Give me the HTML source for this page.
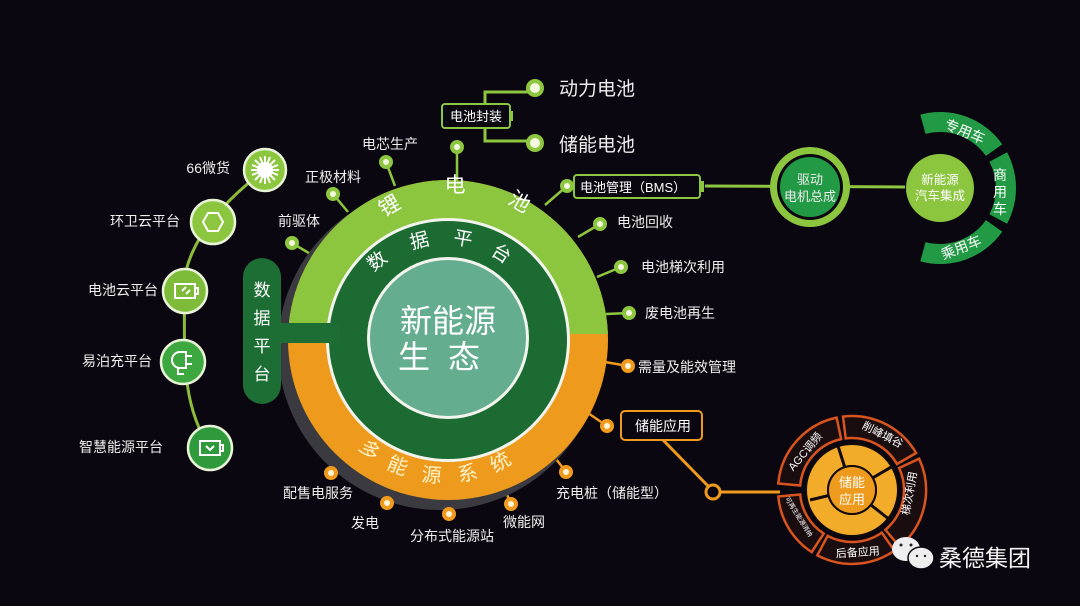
<!DOCTYPE html>
<html><head><meta charset="utf-8"><style>
html,body{margin:0;padding:0;background:#0b0710;}
svg{display:block}
text{font-family:"Liberation Sans","Noto Sans CJK SC",sans-serif;}
</style></head><body>
<svg width="1080" height="606" viewBox="0 0 1080 606" xmlns="http://www.w3.org/2000/svg">
<rect width="1080" height="606" fill="#0b0710"/>
<defs>
<clipPath id="top"><rect x="0" y="0" width="1080" height="334"/></clipPath>
</defs>

<path d="M265,170 C205,215 180,260 184,300 C186,340 178,400 210,448" fill="none" stroke="#8dbb3a" stroke-width="3"/>
<g stroke="#e8f3d8" stroke-width="2.5">
<circle cx="265" cy="170" r="21" fill="#8cc63f"/>
<circle cx="213" cy="222" r="22" fill="#8cc63f"/>
<circle cx="185" cy="291" r="22" fill="#7dbb38"/>
<circle cx="183" cy="362" r="22" fill="#3ea840"/>
<circle cx="210" cy="448" r="22" fill="#2f9a3c"/>
</g>
<g fill="none" stroke="#fff" stroke-width="2">
<circle cx="265" cy="170" r="8" fill="#fff" stroke="none"/>
<path d="M265,156 L265,184 M251,170 L279,170 M255,160 L275,180 M275,160 L255,180 M260,157 L270,183 M270,157 L260,183 M252,165 L278,175 M252,175 L278,165"/>
<polygon points="203,222 208,213 218,213 223,222 218,231 208,231"/>
<rect x="175" y="284" width="20" height="14"/><path d="M195,288 h3 v6 h-3 M182,291 l4,-4 M186,294 l4,-4"/>
<path d="M186,352 h-6 a8,8 0 0 0 0,16 h6 z M186,356 h6 M186,364 h6 M178,368 v6 h6"/>
<rect x="200" y="441" width="20" height="14"/><path d="M220,445 h3 v6 h-3 M206,446 l4,4 l4,-4"/>
</g>
<g fill="#eee" font-size="14" text-anchor="end">
<text x="230" y="173">66微货</text>
<text x="180" y="226">环卫云平台</text>
<text x="158" y="295">电池云平台</text>
<text x="152" y="366">易泊充平台</text>
<text x="163" y="452">智慧能源平台</text>
</g>

<g stroke-width="2.5">
<g stroke="#8dc63f">
<line x1="292" y1="243" x2="312" y2="255"/>
<line x1="333" y1="194" x2="348" y2="212"/>
<line x1="386" y1="162" x2="395" y2="186"/>
<line x1="457" y1="147" x2="457" y2="182"/>
<line x1="567" y1="186" x2="545" y2="205"/>
<line x1="600" y1="224" x2="578" y2="237"/>
<line x1="621" y1="267" x2="597" y2="277"/>
<line x1="629" y1="313" x2="606" y2="314"/>
</g>
<g stroke="#f09a1e">
<line x1="628" y1="366" x2="605" y2="362"/>
<line x1="607" y1="426" x2="588" y2="413"/>
<line x1="566" y1="472" x2="553" y2="455"/>
<line x1="511" y1="504" x2="503" y2="485"/>
<line x1="449" y1="514" x2="449" y2="495"/>
<line x1="387" y1="503" x2="393" y2="485"/>
<line x1="331" y1="473" x2="345" y2="457"/>
</g>
</g>

<circle cx="440" cy="348" r="162" fill="#3a3a40"/>
<circle cx="448" cy="340" r="160" fill="#ee9a1c"/>
<circle cx="448" cy="340" r="160" fill="#8cc63f" clip-path="url(#top)"/>
<rect x="243" y="258" width="38" height="146" rx="19" fill="#1d6e34"/>
<rect x="270" y="323" width="70" height="20" fill="#1d6e34"/>
<circle cx="448" cy="340" r="122" fill="#f4f4ee"/>
<circle cx="448" cy="340" r="119" fill="#1b6b32"/>
<rect x="270" y="323" width="70" height="20" fill="#1d6e34"/>
<circle cx="448" cy="338" r="81" fill="#f4f4ee"/>
<circle cx="448" cy="338" r="78" fill="#64ae8f"/>
<text x="448" y="332" font-size="32" fill="#fff" text-anchor="middle">新能源</text>
<text x="448" y="368" font-size="32" fill="#fff" text-anchor="middle" letter-spacing="18">生态</text>
<g fill="#fff" font-size="17" text-anchor="middle">
<text x="262" y="296">数</text><text x="262" y="324">据</text><text x="262" y="352">平</text><text x="262" y="380">台</text>
</g>
<g fill="#fff" font-size="21" text-anchor="middle">
<text transform="translate(393,212) rotate(-30)">锂</text>
<text transform="translate(455,192)">电</text>
<text transform="translate(516,208) rotate(30)">池</text>
</g>
<g fill="#fff" font-size="19" text-anchor="middle">
<text transform="translate(381,266) rotate(-38)">数</text>
<text transform="translate(421,247) rotate(-14)">据</text>
<text transform="translate(462,245) rotate(10)">平</text>
<text transform="translate(498,259) rotate(32)">台</text>
</g>
<g fill="#fff3c8" font-size="20" text-anchor="middle">
<text transform="translate(365,455) rotate(45)">多</text>
<text transform="translate(395,472) rotate(22)">能</text>
<text transform="translate(431,482) rotate(5)">源</text>
<text transform="translate(469,480) rotate(-12)">系</text>
<text transform="translate(504,468) rotate(-32)">统</text>
</g>

<g stroke-width="4">
<g fill="#f4f8e0" stroke="#8dc63f">
<circle cx="292" cy="243" r="5"/><circle cx="333" cy="194" r="5"/><circle cx="386" cy="162" r="5"/>
<circle cx="457" cy="147" r="5"/><circle cx="567" cy="186" r="5"/><circle cx="600" cy="224" r="5"/>
<circle cx="621" cy="267" r="5"/><circle cx="629" cy="313" r="5"/>
</g>
<g fill="#fff4d8" stroke="#f09a1e">
<circle cx="628" cy="366" r="5"/><circle cx="607" cy="426" r="5"/><circle cx="566" cy="472" r="5"/>
<circle cx="511" cy="504" r="5"/><circle cx="449" cy="514" r="5"/><circle cx="387" cy="503" r="5"/>
<circle cx="331" cy="473" r="5"/>
</g>
</g>
<g fill="#eee" font-size="14">
<text x="362" y="149">电芯生产</text>
<text x="305" y="182">正极材料</text>
<text x="278" y="226">前驱体</text>
<text x="617" y="227">电池回收</text>
<text x="641" y="272">电池梯次利用</text>
<text x="645" y="318">废电池再生</text>
<text x="638" y="372">需量及能效管理</text>
<text x="556" y="498">充电桩（储能型）</text>
<text x="503" y="527">微能网</text>
<text x="410" y="541">分布式能源站</text>
<text x="351" y="528">发电</text>
<text x="283" y="498">配售电服务</text>
</g>

<path d="M485,104 V92 H530 M485,128 V141 H530" fill="none" stroke="#8dc63f" stroke-width="3"/>
<rect x="442" y="104" width="68" height="24" rx="3" fill="#0b0710" stroke="#8dc63f" stroke-width="2"/>
<rect x="509" y="111" width="4" height="10" fill="#8dc63f"/>
<text x="450" y="121" font-size="13" fill="#fff">电池封装</text>
<circle cx="535" cy="88" r="9" fill="#8dc63f"/><circle cx="535" cy="88" r="5" fill="#f4f8e0"/>
<circle cx="535" cy="143" r="9" fill="#8dc63f"/><circle cx="535" cy="143" r="5" fill="#f4f8e0"/>
<text x="559" y="95" font-size="19" fill="#eee">动力电池</text>
<text x="559" y="151" font-size="19" fill="#eee">储能电池</text>

<line x1="705" y1="186" x2="905" y2="187" stroke="#8dc63f" stroke-width="3"/>
<rect x="574" y="175" width="126" height="23" rx="3" fill="#0b0710" stroke="#8dc63f" stroke-width="2"/>
<rect x="699" y="181" width="5" height="11" fill="#8dc63f"/>
<text x="580" y="192" font-size="13" fill="#fff">电池管理（BMS）</text>
<circle cx="810" cy="187" r="40" fill="#8cc63f"/>
<circle cx="810" cy="187" r="33" fill="#0b0710"/>
<circle cx="810" cy="187" r="30" fill="#229a45"/>
<text x="810" y="184" font-size="13" fill="#eee" text-anchor="middle">驱动</text>
<text x="810" y="201" font-size="13" fill="#eee" text-anchor="middle">电机总成</text>
<circle cx="940" cy="188" r="34" fill="#8cc63f"/>
<text x="940" y="184" font-size="12.5" fill="#fff" text-anchor="middle">新能源</text>
<text x="940" y="200" font-size="12.5" fill="#fff" text-anchor="middle">汽车集成</text>
<g fill="#229a45">
<path d="M920.3,114.6 A76,76 0 0 1 1002.3,144.4 L985.9,155.9 A56,56 0 0 0 925.5,133.9 Z"/>
<path d="M1007.1,152.3 A76,76 0 0 1 1007.1,223.7 L989.4,214.3 A56,56 0 0 0 989.4,161.7 Z"/>
<path d="M1002.3,231.6 A76,76 0 0 1 920.3,261.4 L925.5,242.1 A56,56 0 0 0 985.9,220.1 Z"/>
</g>
<g fill="#fff" font-size="14" text-anchor="middle">
<text transform="translate(963,136) rotate(22)">专用车</text>
<text x="1000" y="180">商</text><text x="1000" y="197">用</text><text x="1000" y="214">车</text>
<text transform="translate(963,252) rotate(-22)">乘用车</text>
</g>

<rect x="621" y="411" width="81" height="29" rx="4" fill="#0b0710" stroke="#f09a1e" stroke-width="2"/>
<text x="635" y="431" font-size="14" fill="#fff">储能应用</text>
<line x1="663" y1="440" x2="708" y2="486" stroke="#f09a1e" stroke-width="3"/>
<line x1="720" y1="492" x2="780" y2="492" stroke="#f09a1e" stroke-width="3"/>
<circle cx="713" cy="492" r="7" fill="#0b0710" stroke="#f09a1e" stroke-width="3"/>
<g fill="#1a0d10" stroke="#d9541e" stroke-width="2.5">
<path d="M778.3,483.5 A74,74 0 0 1 836.6,417.6 L841.2,439.1 A52,52 0 0 0 800.2,485.5 Z"/>
<path d="M843.0,416.6 A74,74 0 0 1 916.1,453.0 L897.0,464.0 A52,52 0 0 0 845.7,438.4 Z"/>
<path d="M919.1,458.7 A74,74 0 0 1 899.6,546.7 L885.4,529.8 A52,52 0 0 0 899.1,468.0 Z"/>
<path d="M894.4,550.6 A74,74 0 0 1 817.3,555.3 L827.6,535.9 A52,52 0 0 0 881.8,532.6 Z"/>
<path d="M811.7,552.1 A74,74 0 0 1 778.3,496.5 L800.2,494.5 A52,52 0 0 0 823.7,533.6 Z"/>
</g>
<circle cx="852" cy="490" r="47" fill="#120a0c"/>
<circle cx="852" cy="490" r="35" fill="none" stroke="#f2ac2a" stroke-width="20"/>
<g stroke="#120a0c" stroke-width="3">
<line x1="852" y1="490" x2="838" y2="446"/><line x1="852" y1="490" x2="893" y2="466"/>
<line x1="852" y1="490" x2="890" y2="520"/><line x1="852" y1="490" x2="810" y2="500"/>
</g>
<circle cx="852" cy="490" r="25" fill="#120a0c"/>
<circle cx="852" cy="490" r="23" fill="#ee9a1c"/>
<text x="852" y="487" font-size="13" fill="#fff" text-anchor="middle">储能</text>
<text x="852" y="504" font-size="13" fill="#fff" text-anchor="middle">应用</text>
<g fill="#fff" text-anchor="middle">
<text transform="translate(808,454) rotate(-50)" font-size="11">AGC调频</text>
<text transform="translate(881,438) rotate(27)" font-size="11">削峰填谷</text>
<text transform="translate(913,494) rotate(-80)" font-size="11">梯次利用</text>
<text transform="translate(858,556) rotate(-4)" font-size="11">后备应用</text>
<text transform="translate(797,518) rotate(58)" font-size="6.5">可再生能源消纳</text>
</g>

<g fill="#eee">
<ellipse cx="906" cy="549" rx="14" ry="12"/>
<ellipse cx="921" cy="558" rx="13" ry="11" stroke="#0b0710" stroke-width="1.5"/>
</g>
<g fill="#222"><circle cx="901" cy="545" r="1.5"/><circle cx="911" cy="545" r="1.5"/><circle cx="917" cy="556" r="1.2"/><circle cx="925" cy="556" r="1.2"/></g>
<text x="939" y="566" font-size="23" fill="#f4f4f4">桑德集团</text>
</svg>
</body></html>
